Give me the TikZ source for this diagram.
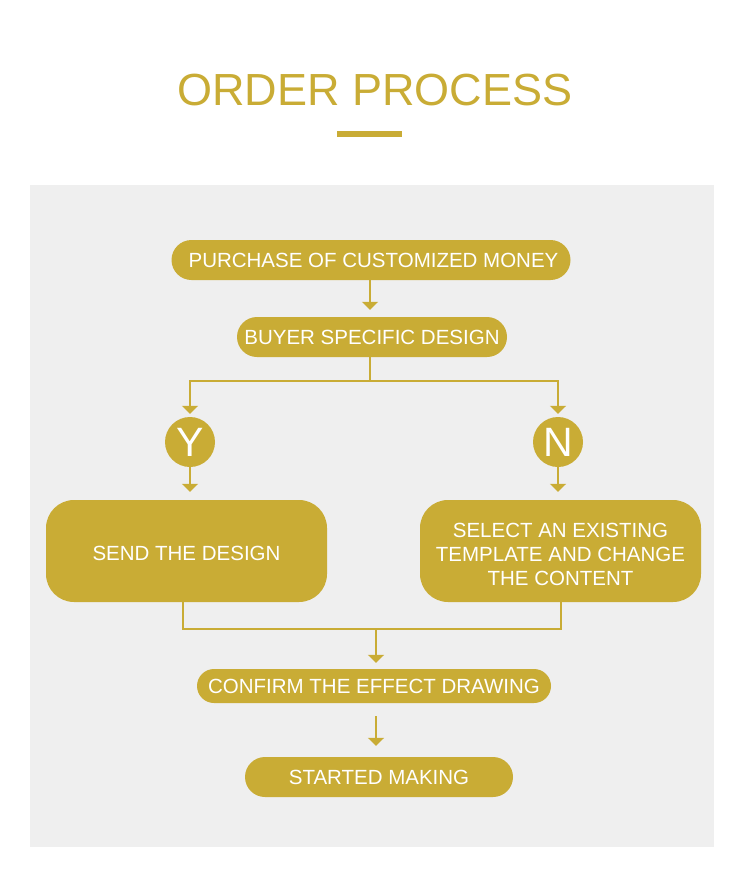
\documentclass[tikz,border=0pt]{standalone}
\usepackage{fontspec}
\setmainfont{Liberation Sans}
\usetikzlibrary{arrows.meta,positioning}
\definecolor{gold}{HTML}{C9AC35}
\definecolor{panel}{HTML}{EFEFEF}
\begin{document}
\begin{tikzpicture}[x=1pt,y=-1pt,
  pill/.style={fill=gold, text=white, inner sep=0pt, font=\fontsize{20.5}{24}\selectfont, align=center},
  bigbox/.style={fill=gold, text=white, inner sep=0pt, rounded corners=28pt, font=\fontsize{20.5}{24}\selectfont, align=center},
  yn/.style={circle, fill=gold, text=white, inner sep=0pt, minimum size=50pt, font=\fontsize{41}{41}\selectfont},
  conn/.style={draw=gold, line width=1.8pt},
  arr/.style={conn, -{Triangle[width=16pt,length=8pt]}}]
\useasboundingbox (0,0) rectangle (750,881);
\fill[white] (0,0) rectangle (750,881);
\fill[panel] (30,185) rectangle (714,847);
\node[text=gold, font=\fontsize{45}{50}\selectfont, inner sep=0pt] (title) at (375,90) {ORDER PROCESS};
\fill[gold] (337,131) rectangle (402,137);
\node[pill, minimum width=399pt, minimum height=40pt, rounded corners=20pt] (p1) at (371,260) {\hspace{5pt}PURCHASE OF CUSTOMIZED MONEY};
\node[pill, minimum width=270pt, minimum height=40pt, rounded corners=20pt] (p2) at (372,337) {BUYER SPECIFIC DESIGN};
\node[yn] (y) at (190,442) {Y};
\node[yn] (n) at (558,442) {N};
\node[bigbox, minimum width=281pt, minimum height=102pt] (send) at (186.5,551) {\rule{0pt}{19pt}SEND THE DESIGN};
\node[bigbox, minimum width=281pt, minimum height=102pt] (sel) at (560.5,551) {\begin{tabular}{@{}c@{}}\rule{0pt}{29pt}SELECT AN EXISTING\\TEMPLATE AND CHANGE\\THE CONTENT\end{tabular}};
\node[pill, minimum width=354pt, minimum height=34pt, rounded corners=17pt] (conf) at (374,686) {CONFIRM THE EFFECT DRAWING};
\node[pill, minimum width=268pt, minimum height=40pt, rounded corners=20pt] (start) at (379,777) {STARTED MAKING};
\coordinate (b1) at (370,381);
\coordinate (b2) at (376,629);
% arrows
\draw[arr, shorten >=7pt] (p1.south -| 370,0) -- (p2.north -| 370,0);
\draw[conn] (p2.south -| b1) -- (b1);
\draw[arr, shorten >=3pt] (b1) -| (y.north);
\draw[arr, shorten >=3pt] (b1) -| (n.north);
\draw[arr, shorten >=8pt] (y.south) -- (send.north -| y.south);
\draw[arr, shorten >=8pt] (n.south) -- (sel.north -| n.south);
\draw[conn] (send.south -| 183,0) |- (b2);
\draw[conn] (sel.south -| 561,0) |- (b2);
\draw[arr, shorten >=6pt] (b2) -- (conf.north -| b2);
\draw[arr, shorten <=13pt, shorten >=11pt] (conf.south -| 376,0) -- (start.north -| 376,0);
\end{tikzpicture}
\end{document}
